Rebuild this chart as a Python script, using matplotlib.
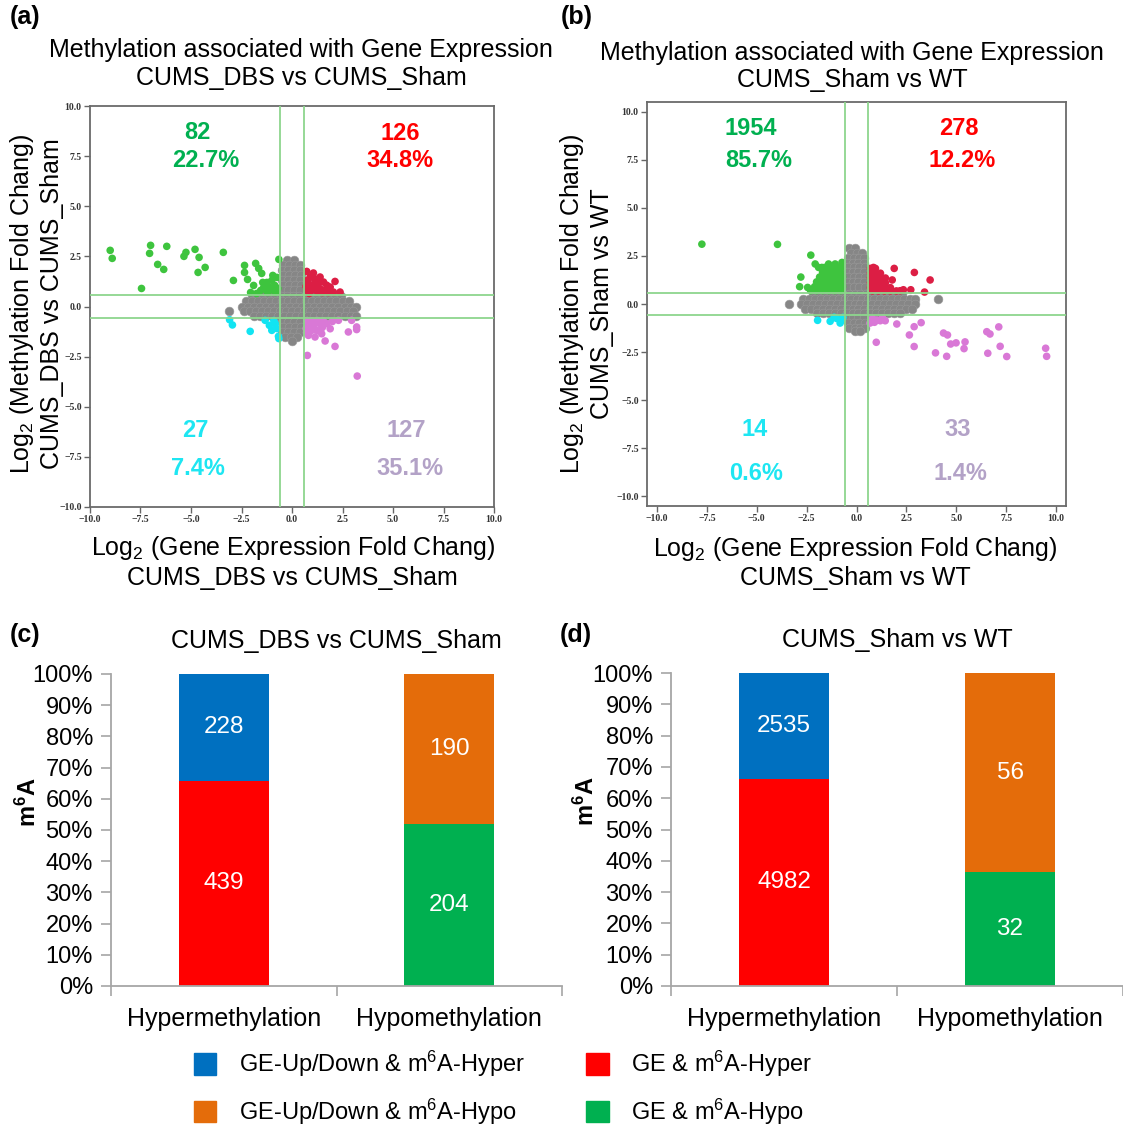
import numpy as np
import matplotlib
matplotlib.use('Agg')
import matplotlib.pyplot as plt
from matplotlib.patches import Patch
from matplotlib.ticker import PercentFormatter

plt.rcParams['font.family'] = ['Liberation Sans', 'DejaVu Sans']
plt.rcParams['mathtext.fontset'] = 'custom'
plt.rcParams['mathtext.rm'] = 'Liberation Sans'
plt.rcParams['mathtext.it'] = 'Liberation Sans:italic'
plt.rcParams['mathtext.bf'] = 'Liberation Sans:bold'

# ---------------- data ----------------
# panel (a): CUMS_DBS vs CUMS_Sham  (x = log2 GE fold change, y = log2 methylation fold change)
# dense gray cloud, written as (y, [x ...]) rows
gray_a_rows = [
    (2.3, [-0.25, 0.1]),
    (2.05, [-0.45, -0.15, 0.15, 0.4]),
    (1.8, [-0.5, -0.2, 0.1, 0.4]),
    (1.55, [-0.45, -0.15, 0.15, 0.45]),
    (1.3, [-0.5, -0.2, 0.1, 0.4]),
    (1.05, [-0.45, -0.15, 0.15, 0.45]),
    (0.8, [-0.5, -0.2, 0.1, 0.4]),
    (0.5, [-2.0, -1.75, -1.45, -1.15, -0.85, -0.55, -0.25, 0.05, 0.35, 0.65, 0.95, 1.25, 1.55, 1.85, 2.15, 2.45]),
    (0.25, [-2.3, -2.0, -1.7, -1.4, -1.1, -0.8, -0.5, -0.2, 0.1, 0.4, 0.7, 1.0, 1.3, 1.6, 1.9, 2.2, 2.5, 2.8]),
    (0.0, [-2.5, -2.2, -1.9, -1.6, -1.3, -1.0, -0.7, -0.4, -0.1, 0.2, 0.5, 0.8, 1.1, 1.4, 1.7, 2.0, 2.3, 2.6, 2.9, 3.15]),
    (-0.2, [-3.1, -2.4, -2.1, -1.8, -1.5, -1.2, -0.9, -0.6, -0.3, 0.0, 0.3, 0.6, 0.9, 1.2, 1.5, 1.8, 2.1, 2.4, 2.7, 3.0]),
    (-0.45, [-1.9, -1.6, -1.3, -1.0, -0.7, -0.4, -0.1, 0.2, 0.5, 0.8, 1.1, 1.4, 1.7, 2.0, 2.3, 2.6, 2.9, 3.15]),
    (-0.75, [-0.5, -0.2, 0.1, 0.4]),
    (-1.0, [-0.45, -0.15, 0.15, 0.45]),
    (-1.25, [-0.5, -0.2, 0.1, 0.4]),
    (-1.5, [-0.35, -0.05, 0.25]),
    (-1.72, [0.0]),
]
green_a = [(-9.0, 2.8), (-8.9, 2.4), (-7.0, 3.05), (-7.05, 2.65), (-6.2, 3.0), (-6.65, 2.1),
           (-6.35, 1.85), (-7.45, 0.9), (-5.35, 2.5), (-5.25, 2.7), (-4.8, 2.85), (-4.6, 2.45),
           (-4.65, 1.7), (-4.3, 1.95), (-3.4, 2.7), (-2.9, 1.3), (-2.35, 2.05), (-2.35, 1.7),
           (-1.8, 2.15), (-2.2, 1.35), (-1.65, 1.9), (-1.5, 1.65), (-1.9, 1.05), (-1.75, 0.65),
           (-1.25, 0.8), (-1.0, 1.3), (-0.85, 1.05), (-0.75, 1.45), (-0.65, 2.35), (-2.05, 0.7),
           (-1.4, 0.95), (-1.1, 0.95), (-0.9, 0.8), (-1.25, 1.2), (-1.55, 0.8), (-0.7, 0.9),
           (-1.45, 1.2), (-0.8, 0.7), (-1.2, 0.7), (-0.95, 1.55)]
red_a = [(0.73, 1.75), (1.06, 1.67), (0.9, 1.47), (1.39, 1.47), (0.81, 1.14), (1.14, 1.22),
         (1.56, 1.22), (1.89, 0.97), (2.13, 1.25), (2.38, 0.72), (2.05, 0.72), (0.98, 0.81),
         (1.39, 0.89), (1.64, 0.81), (1.23, 0.97), (0.73, 0.81), (1.72, 1.06), (0.75, 1.3),
         (1.0, 1.05), (1.25, 0.75), (1.5, 0.7), (1.8, 0.7), (0.7, 1.0), (1.1, 1.4),
         (0.85, 0.65), (1.3, 1.15)]
cyan_a = [(-3.09, -0.66), (-2.95, -0.92), (-2.07, -1.24), (-1.33, -0.69), (-1.12, -0.94),
          (-0.83, -0.86), (-0.67, -1.49), (-0.65, -1.6), (-1.0, -1.19), (-0.75, -1.1), (-0.9, -0.7)]
pink_a = [(0.81, -0.86), (1.06, -1.02), (1.39, -0.86), (0.81, -1.44), (1.23, -1.19), (1.47, -1.36),
          (1.64, -1.72), (2.13, -1.99), (2.3, -0.69), (2.79, -1.27), (2.95, -0.69), (3.2, -1.02),
          (3.2, -1.15), (0.76, -2.44), (3.23, -3.47), (1.89, -1.11), (1.14, -1.52), (1.72, -0.86),
          (0.75, -0.7), (1.0, -0.72), (1.25, -0.7), (1.55, -0.72), (0.7, -1.1), (0.95, -1.2),
          (1.5, -1.05), (0.72, -1.3), (1.1, -0.9), (2.0, -0.75)]
counts_a = ['82', '126', '27', '127']
pcts_a = ['22.7%', '34.8%', '7.4%', '35.1%']

# panel (b): CUMS_Sham vs WT
gray_b_rows = [
    (2.9, [-0.4, -0.1]),
    (2.65, [-0.3, 0.0, 0.3]),
    (2.4, [-0.45, -0.15, 0.15, 0.4]),
    (2.15, [-0.5, -0.2, 0.1, 0.4]),
    (1.9, [-0.45, -0.15, 0.15, 0.45]),
    (1.65, [-0.5, -0.2, 0.1, 0.4]),
    (1.4, [-0.45, -0.15, 0.15, 0.45]),
    (1.15, [-0.5, -0.2, 0.1, 0.4]),
    (0.9, [-0.45, -0.15, 0.15, 0.45]),
    (0.5, [-2.2, -1.9, -1.6, -1.3, -1.0, -0.7, -0.4, -0.1, 0.2, 0.5, 0.8, 1.1, 1.4, 1.7, 2.0, 2.3]),
    (0.25, [-2.7, -2.4, -2.1, -1.8, -1.5, -1.2, -0.9, -0.6, -0.3, 0.0, 0.3, 0.6, 0.9, 1.2, 1.5, 1.8, 2.1, 2.4, 2.7, 2.95, 4.1]),
    (0.0, [-3.4, -2.8, -2.5, -2.2, -1.9, -1.6, -1.3, -1.0, -0.7, -0.4, -0.1, 0.2, 0.5, 0.8, 1.1, 1.4, 1.7, 2.0, 2.3, 2.6, 2.95]),
    (-0.25, [-2.6, -2.3, -2.0, -1.7, -1.4, -1.1, -0.8, -0.5, -0.2, 0.1, 0.4, 0.7, 1.0, 1.3, 1.6, 1.9, 2.2, 2.5, 2.8]),
    (-0.45, [-2.0, -1.7, -1.4, -1.1, -0.8, -0.5, -0.2, 0.1, 0.4, 0.7, 1.0, 1.3, 1.6, 1.9, 2.2]),
    (-0.75, [-0.5, -0.2, 0.1, 0.4]),
    (-1.0, [-0.45, -0.15, 0.15, 0.45]),
    (-1.25, [-0.4, -0.1, 0.2, 0.45]),
    (-1.4, [-0.1, 0.2]),
]
green_b = [(-7.75, 3.11), (-3.96, 3.1), (-2.29, 2.54), (-2.79, 1.4), (-2.85, 0.9), (-2.45, 0.86),
           (-2.07, 2.08), (-1.74, 1.9), (-1.4, 2.08), (-1.07, 2.08), (-0.73, 2.16),
           (-1.9, 1.9), (-1.6, 1.9), (-1.3, 1.9), (-1.0, 1.9), (-0.75, 1.9),
           (-1.7, 1.65), (-1.4, 1.65), (-1.1, 1.65), (-0.8, 1.65),
           (-1.85, 1.4), (-1.55, 1.4), (-1.25, 1.4), (-0.95, 1.4), (-0.7, 1.4),
           (-2.0, 1.15), (-1.7, 1.15), (-1.4, 1.15), (-1.1, 1.15), (-0.8, 1.15),
           (-2.1, 0.9), (-1.8, 0.9), (-1.5, 0.9), (-1.2, 0.9), (-0.9, 0.9), (-0.7, 0.9),
           (-2.3, 0.7), (-2.0, 0.7), (-1.7, 0.7), (-1.4, 0.7), (-1.1, 0.7), (-0.8, 0.7)]
red_b = [(0.85, 1.9), (1.89, 1.85), (2.9, 1.64), (3.69, 1.25), (1.79, 1.25), (2.35, 0.74),
         (2.72, 0.74), (3.41, 0.62), (2.19, 0.69),
         (0.7, 1.85), (0.95, 1.85), (0.7, 1.6), (0.95, 1.6), (1.2, 1.6),
         (0.7, 1.35), (0.95, 1.35), (1.2, 1.35), (1.45, 1.35),
         (0.7, 1.1), (0.95, 1.1), (1.2, 1.1), (1.45, 1.1),
         (0.7, 0.85), (0.95, 0.85), (1.2, 0.85), (1.45, 0.85), (1.7, 0.85),
         (0.8, 0.68), (1.1, 0.68), (1.4, 0.68), (1.7, 0.68), (2.0, 0.68)]
cyan_b = [(-1.95, -0.85), (-1.32, -0.9), (-1.12, -0.69), (-0.82, -0.99), (-0.73, -0.83),
          (-1.0, -0.75), (-0.68, -0.7)]
pink_b = [(0.68, -0.99), (1.02, -0.83), (1.44, -0.87), (2.02, -1.04), (0.99, -1.99), (2.65, -1.61),
          (2.89, -1.18), (2.89, -2.21), (3.24, -0.97), (3.96, -2.54), (4.36, -1.51), (4.56, -1.61),
          (4.52, -2.72), (4.72, -2.08), (4.99, -2.02), (5.44, -1.97), (5.39, -2.32), (6.53, -1.44),
          (6.69, -1.56), (6.58, -2.56), (7.13, -1.19), (7.2, -2.2), (7.53, -2.73), (9.48, -2.3),
          (9.53, -2.72), (1.19, -0.87), (0.8, -0.75), (1.3, -0.72), (0.9, -0.95)]
counts_b = ['1954', '278', '14', '33']
pcts_b = ['85.7%', '12.2%', '0.6%', '1.4%']

# panels (c) and (d): stacked bars
categories = ['Hypermethylation', 'Hypomethylation']
c_lower = [439, 204]   # GE & m6A-Hyper / GE & m6A-Hypo
c_upper = [228, 190]   # GE-Up/Down & m6A-Hyper / -Hypo
d_lower = [4982, 32]
d_upper = [2535, 56]

# colours
GRAY = '#868686'
PT_GREEN, PT_RED, PT_CYAN, PT_PINK = '#3ec43e', '#dc1e44', '#12e4f2', '#d978d6'
TX_GREEN, TX_RED, TX_CYAN, TX_LAV = '#00b050', '#ff0000', '#1ee6f2', '#b3a2c7'
LINE_GREEN = '#8dd68d'
BLUE, ORANGE, RED, GREEN = '#0070c0', '#e46c0a', '#ff0000', '#00b050'

W, H = 1123, 1131
fig = plt.figure(figsize=(W / 100, H / 100), dpi=100)


def rows_to_xy(rows):
    xs, ys = [], []
    for y, row in rows:
        xs += row
        ys += [y] * len(row)
    return xs, ys


def scatter_panel(ax, gray_rows, groups, lim, counts, pcts, text_pos):
    gx, gy = rows_to_xy(gray_rows)
    ax.scatter(gx, gy, s=40, c=GRAY, edgecolors='#9a9a9a', linewidths=0.4, zorder=2)
    for pts, col in groups:
        x, y = zip(*pts)
        ax.scatter(x, y, s=30, c=col, edgecolors='none', zorder=2)
    for v in (-0.585, 0.585):
        ax.axvline(v, color=LINE_GREEN, lw=1.3, zorder=3)
        ax.axhline(v, color=LINE_GREEN, lw=1.3, zorder=3)
    ax.set_xlim(-lim, lim)
    ax.set_ylim(-lim, lim)
    ticks = np.arange(-10, 10.1, 2.5)
    labels = [f'{t:.1f}'.replace('-', '\u2212') for t in ticks]
    tk = dict(fontfamily='Liberation Serif', fontweight='bold', fontsize=7, color='#333333')
    ax.set_xticks(ticks, labels=labels, **tk)
    ax.set_yticks(ticks, labels=labels, **tk)
    ax.tick_params(direction='out', length=4, width=1, color='#666666', pad=2)
    for s in ax.spines.values():
        s.set_color('#6a6a6a')
        s.set_linewidth(1.3)
    cols = [TX_GREEN, TX_RED, TX_CYAN, TX_LAV]
    for i in range(4):
        (x1, y1), (x2, y2) = text_pos[i]
        ax.text(x1, y1, counts[i], color=cols[i], fontsize=17, fontweight='bold', ha='center', va='center')
        ax.text(x2, y2, pcts[i], color=cols[i], fontsize=17, fontweight='bold', ha='center', va='center')


def bar_panel(ax, lower, upper, title):
    lower = np.array(lower)
    upper = np.array(upper)
    total = lower + upper
    x = np.arange(len(categories))
    b1 = ax.bar(x, lower / total, width=0.4, color=[RED, GREEN])
    b2 = ax.bar(x, upper / total, bottom=lower / total, width=0.4, color=[BLUE, ORANGE])
    ax.bar_label(b1, labels=[str(v) for v in lower], label_type='center', color='white', fontsize=17.5)
    ax.bar_label(b2, labels=[str(v) for v in upper], label_type='center', color='white', fontsize=17.5)
    ax.set_xlim(-0.5, 1.5)
    ax.set_ylim(0, 1)
    ax.set_yticks(np.arange(0, 1.01, 0.1))
    ax.yaxis.set_major_formatter(PercentFormatter(1.0, decimals=0))
    ax.set_xticks([-0.5, 0.5, 1.5], labels=['', '', ''])
    ax.set_xticks(x, labels=categories, minor=True)
    ax.tick_params(axis='x', which='minor', length=0, pad=15, labelsize=18)
    ax.tick_params(axis='x', which='major', length=7, width=1.2, color='#a6a6a6')
    ax.tick_params(axis='y', length=7, width=1.2, color='#a6a6a6', pad=6, labelsize=17)
    for s in ('top', 'right'):
        ax.spines[s].set_visible(False)
    for s in ('left', 'bottom'):
        ax.spines[s].set_color('#a6a6a6')
        ax.spines[s].set_linewidth(1.3)
    ax.set_title(title, fontsize=18, pad=19)


# ---------------- (a) ----------------
ax_a = fig.add_axes([90 / W, 1 - 507 / H, 404 / W, 401 / H])
scatter_panel(ax_a, gray_a_rows, [(green_a, PT_GREEN), (red_a, PT_RED), (cyan_a, PT_CYAN), (pink_a, PT_PINK)],
              10, counts_a, pcts_a,
              [((-4.7, 8.7), (-4.25, 7.3)), ((5.35, 8.65), (5.35, 7.3)),
               ((-4.8, -6.2), (-4.65, -8.1)), ((5.65, -6.2), (5.85, -8.1))])
ax_a.text(0.523, 1.105, 'Methylation associated with Gene Expression\nCUMS_DBS vs CUMS_Sham',
          transform=ax_a.transAxes, ha='center', va='center', fontsize=18)
ax_a.text(0.502, -0.138, 'Log$_{2}$ (Gene Expression Fold Chang)\nCUMS_DBS vs CUMS_Sham',
          transform=ax_a.transAxes, ha='center', va='center', fontsize=18)
ax_a.text(-0.134, 0.506, 'Log$_{2}$ (Methylation Fold Chang)\nCUMS_DBS vs CUMS_Sham',
          transform=ax_a.transAxes, ha='center', va='center', rotation=90, fontsize=18)

# ---------------- (b) ----------------
ax_b = fig.add_axes([647 / W, 1 - 506 / H, 419 / W, 404 / H])
scatter_panel(ax_b, gray_b_rows, [(green_b, PT_GREEN), (red_b, PT_RED), (cyan_b, PT_CYAN), (pink_b, PT_PINK)],
              10.5, counts_b, pcts_b,
              [((-5.3, 9.1), (-4.9, 7.45)), ((5.15, 9.1), (5.3, 7.45)),
               ((-5.1, -6.5), (-5.05, -8.8)), ((5.05, -6.5), (5.2, -8.8))])
ax_b.text(0.49, 1.088, 'Methylation associated with Gene Expression\nCUMS_Sham vs WT',
          transform=ax_b.transAxes, ha='center', va='center', fontsize=18)
ax_b.text(0.497, -0.14, 'Log$_{2}$ (Gene Expression Fold Chang)\nCUMS_Sham vs WT',
          transform=ax_b.transAxes, ha='center', va='center', fontsize=18)
ax_b.text(-0.146, 0.5, 'Log$_{2}$ (Methylation Fold Chang)\nCUMS_Sham vs WT',
          transform=ax_b.transAxes, ha='center', va='center', rotation=90, fontsize=18)

# ---------------- (c) / (d) ----------------
ax_c = fig.add_axes([111 / W, 1 - 986 / H, 451 / W, 312 / H])
bar_panel(ax_c, c_lower, c_upper, 'CUMS_DBS vs CUMS_Sham')
ax_c.text(-0.183, 0.59, r'$\mathbf{m^{6}A}$', transform=ax_c.transAxes, rotation=90,
          ha='center', va='center', fontsize=17)

ax_d = fig.add_axes([671 / W, 1 - 986 / H, 452 / W, 313 / H])
bar_panel(ax_d, d_lower, d_upper, 'CUMS_Sham vs WT')
ax_d.text(-0.188, 0.59, r'$\mathbf{m^{6}A}$', transform=ax_d.transAxes, rotation=90,
          ha='center', va='center', fontsize=17)

# panel letters
for lab, px, py in [('(a)', 25, 17), ('(b)', 577, 17), ('(c)', 25, 635), ('(d)', 576, 635)]:
    fig.text(px / W, 1 - py / H, lab, fontsize=18, fontweight='bold', ha='center', va='center')

# legend
handles = [Patch(color=BLUE, label='GE-Up/Down & m$^{6}$A-Hyper'),
           Patch(color=ORANGE, label='GE-Up/Down & m$^{6}$A-Hypo'),
           Patch(color=RED, label='GE & m$^{6}$A-Hyper'),
           Patch(color=GREEN, label='GE & m$^{6}$A-Hypo')]
fig.legend(handles=handles, ncol=2, loc='upper left', bbox_to_anchor=(194 / W, 1 - 1049 / H),
           frameon=False, fontsize=17, handlelength=0.95, handleheight=1.0, handletextpad=0.95,
           columnspacing=2.6, labelspacing=0.75, borderpad=0, borderaxespad=0)

fig.savefig('out.png', dpi=100)
